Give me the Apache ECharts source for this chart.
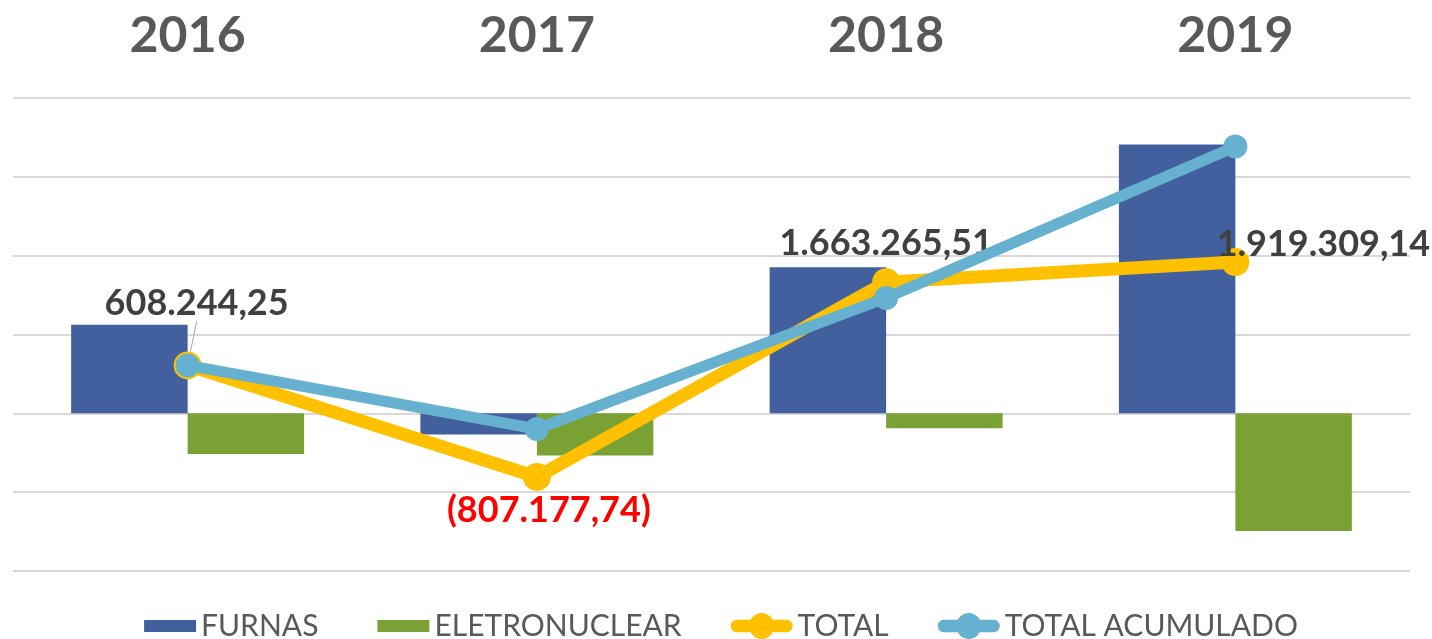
<!DOCTYPE html>
<html>
<head>
<meta charset="utf-8">
<script src="https://cdn.jsdelivr.net/npm/echarts@6/dist/echarts.min.js"></script>
<style>
html,body{margin:0;padding:0;background:#fff;}
#chart{width:1432px;height:639px;}
</style>
</head>
<body>
<div id="chart"></div>
<script>
const categories = ['2016', '2017', '2018', '2019'];
const furnas = [1125000, -270000, 1853000, 3410000];
const eletronuclear = [-517000, -535000, -190000, -1494000];
const total = [608244.25, -807177.74, 1663265.51, 1919309.14];
const totalAcumulado = [608244.25, -198933.49, 1464332.02, 3383641.16];
const seriesNames = ['FURNAS', 'ELETRONUCLEAR', 'TOTAL', 'TOTAL ACUMULADO'];

function fmt(v) {
  const parts = Math.abs(v).toFixed(2).split('.');
  const s = parts[0].replace(/\B(?=(\d{3})+(?!\d))/g, '.') + ',' + parts[1];
  return v < 0 ? '(' + s + ')' : s;
}

const labelOffsets = [[9, -62], [12, 33], [0, -39], [88, -18]];

// legend icons drawn in a 62x26 box
const rectIcon = 'path://M0,0L0,26L0,0ZM62,0L62,26L62,0ZM10,7H62V19H10Z';
const lineIcon = 'path://M6,7H56A6,6 0 0 1 56,19H6A6,6 0 0 1 6,7ZM18.5,13A12.5,12.5 0 1 1 43.5,13A12.5,12.5 0 1 1 18.5,13Z';

const totalData = total.map((v, i) => ({
  value: v,
  label: { color: v < 0 ? '#FF0000' : '#404040' },
  labelLine: { show: i === 0, lineStyle: { color: '#A6A6A6', width: 1 } }
}));

const chart = echarts.init(document.getElementById('chart'), null, { renderer: 'canvas' });
chart.setOption({
  animation: false,
  backgroundColor: '#ffffff',
  grid: { left: 13, right: 22, top: 98, bottom: 68, containLabel: false },
  xAxis: {
    type: 'category',
    position: 'top',
    data: categories,
    axisLine: { show: false },
    axisTick: { show: false },
    axisLabel: {
      color: '#595959', fontFamily: 'Lato', fontWeight: 'bold', fontSize: 50, margin: 37
    }
  },
  yAxis: {
    type: 'value',
    min: -2000000, max: 4000000, interval: 1000000,
    axisLabel: { show: false },
    axisLine: { show: false },
    axisTick: { show: false },
    splitLine: { lineStyle: { color: '#D9D9D9', width: 2 } }
  },
  legend: {
    bottom: -7,
    left: 'center',
    itemWidth: 62,
    itemHeight: 26,
    itemGap: 49,
    symbolKeepAspect: false,
    itemStyle: { borderWidth: 0 },
    textStyle: { color: '#595959', fontFamily: 'Lato', fontSize: 30 },
    data: [
      { name: seriesNames[0], icon: rectIcon },
      { name: seriesNames[1], icon: rectIcon },
      { name: seriesNames[2], icon: lineIcon },
      { name: seriesNames[3], icon: lineIcon }
    ]
  },
  series: [
    {
      name: seriesNames[0], type: 'bar', data: furnas,
      barGap: '0%', barCategoryGap: '33.3%',
      itemStyle: { color: '#41609D' }
    },
    {
      name: seriesNames[1], type: 'bar', data: eletronuclear,
      barGap: '0%', barCategoryGap: '33.3%',
      itemStyle: { color: '#7AA133' }
    },
    {
      name: seriesNames[2], type: 'line', data: totalData,
      symbol: 'circle', symbolSize: 28,
      lineStyle: { color: '#FFC000', width: 13 },
      itemStyle: { color: '#FFC000' },
      label: {
        show: true, position: 'inside',
        fontFamily: 'Lato', fontWeight: 'bold', fontSize: 36,
        formatter: p => fmt(p.value)
      },
      labelLayout: p => ({ dx: labelOffsets[p.dataIndex][0], dy: labelOffsets[p.dataIndex][1] }),
      z: 3
    },
    {
      name: seriesNames[3], type: 'line', data: totalAcumulado,
      symbol: 'circle', symbolSize: 24,
      lineStyle: { color: '#66B1CF', width: 11 },
      itemStyle: { color: '#66B1CF' },
      z: 4
    }
  ]
});
</script>
</body>
</html>
